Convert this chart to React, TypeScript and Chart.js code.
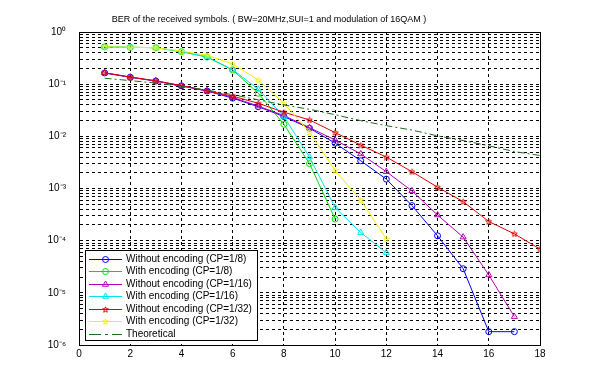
import React, { useEffect, useRef } from "react";
import { Chart, registerables } from "chart.js";

Chart.register(...registerables);

const titleText =
  "BER of the received symbols. ( BW=20MHz,SUI=1 and modulation of 16QAM )";

const xAll = [1, 2, 3, 4, 5, 6, 7, 8, 9, 10, 11, 12, 13, 14, 15, 16, 17, 18];

const woEncCP8 = [
  0.164, 0.136, 0.115, 0.093, 0.074, 0.054, 0.037, 0.024, 0.0143, 0.0074,
  0.0034, 0.00151, 0.00047, 0.000124, 2.9e-5, 1.8e-6, 1.8e-6,
];
const wEncCP8 = [0.52, 0.51, 0.5, 0.42, 0.33, 0.187, 0.067, 0.017, 0.003, 0.00026];
const woEncCP16 = [
  0.164, 0.136, 0.115, 0.093, 0.074, 0.056, 0.038, 0.025, 0.0147, 0.0085,
  0.0046, 0.0021, 0.0009, 0.00031, 0.000117, 2.2e-5, 3.5e-6,
];
const wEncCP16 = [
  0.52, 0.51, 0.5, 0.42, 0.335, 0.19, 0.08, 0.024, 0.004, 0.00043, 0.000143, 5.9e-5,
];
const woEncCP32 = [
  0.166, 0.137, 0.116, 0.094, 0.075, 0.059, 0.043, 0.029, 0.0206, 0.0118,
  0.0068, 0.004, 0.0021, 0.00106, 0.00056, 0.000233, 0.000135, 6.9e-5,
];
const wEncCP32 = [
  0.52, 0.51, 0.5, 0.43, 0.36, 0.244, 0.12, 0.043, 0.012, 0.0022, 0.0006, 0.000108,
];
const theoretical = [
  0.13, 0.117, 0.105, 0.091, 0.077, 0.063, 0.05, 0.04, 0.033, 0.026, 0.02,
  0.016, 0.0132, 0.0102, 0.0083, 0.0066, 0.0051, 0.0043,
];

const seriesNames = [
  "Without encoding (CP=1/8)",
  "With encoding (CP=1/8)",
  "Without encoding (CP=1/16)",
  "With encoding (CP=1/16)",
  "Without encoding (CP=1/32)",
  "With encoding (CP=1/32)",
  "Theoretical",
];
const seriesValues = [woEncCP8, wEncCP8, woEncCP16, wEncCP16, woEncCP32, wEncCP32, theoretical];
const seriesColors = ["#0000ff", "#00e000", "#b800b8", "#00e6e6", "#e00000", "#f2f200", "#1f6b1f"];
const seriesMarkers = ["circle", "circle", "triangle", "triangle", "star", "star", "none"];

const xTicks = [0, 2, 4, 6, 8, 10, 12, 14, 16, 18];
const yExponents = [-6, -5, -4, -3, -2, -1, 0];

const FONT = "Arial, 'Liberation Sans', sans-serif";
const SUP: Record<string, string> = {
  "0": "\u2070", "1": "\u00b9", "2": "\u00b2", "3": "\u00b3", "4": "\u2074",
  "5": "\u2075", "6": "\u2076", "7": "\u2077", "8": "\u2078", "9": "\u2079", "-": "\u207b",
};

function makeStar(color: string, size = 7): HTMLCanvasElement {
  const c = document.createElement("canvas");
  c.width = size;
  c.height = size;
  const ctx = c.getContext("2d")!;
  const cx = size / 2, cy = size / 2 + 0.3, R = size / 2 - 0.5, r = R * 0.45;
  ctx.beginPath();
  for (let k = 0; k < 10; k++) {
    const a = -Math.PI / 2 + (k * Math.PI) / 5;
    const rad = k % 2 === 0 ? R : r;
    ctx.lineTo(cx + rad * Math.cos(a), cy + rad * Math.sin(a));
  }
  ctx.closePath();
  ctx.strokeStyle = color;
  ctx.lineWidth = 1;
  ctx.stroke();
  return c;
}

export default function App() {
  const ref = useRef<HTMLCanvasElement | null>(null);

  useEffect(() => {
    if (!ref.current) return;
    const stars = seriesColors.map((c) => makeStar(c));

    const styleFor = (i: number): any => {
      const m = seriesMarkers[i];
      if (m === "star") return stars[i];
      if (m === "none") return false;
      return m;
    };

    const datasets = seriesValues.map((vals, i) => ({
      label: seriesNames[i],
      data: vals.map((v, k) => ({ x: xAll[k], y: v })),
      borderColor: seriesColors[i],
      backgroundColor: "rgba(0,0,0,0)",
      pointBorderColor: seriesColors[i],
      pointBackgroundColor: "rgba(0,0,0,0)",
      borderWidth: 1,
      pointBorderWidth: 1,
      pointRadius: seriesMarkers[i] === "none" ? 0 : seriesMarkers[i] === "triangle" ? 3.5 : 3,
      pointStyle: styleFor(i),
      borderDash: seriesMarkers[i] === "none" ? [7, 3, 2, 3] : [],
      tension: 0,
      order: seriesValues.length - i,
    }));

    const framePlugin = {
      id: "frame",
      afterDraw(chart: any) {
        const { ctx, chartArea: a } = chart;
        ctx.save();
        ctx.strokeStyle = "#000";
        ctx.lineWidth = 1;
        ctx.setLineDash([]);
        ctx.strokeRect(Math.round(a.left) + 0.5, Math.round(a.top) + 0.5,
          Math.round(a.right - a.left), Math.round(a.bottom - a.top));
        // title
        ctx.fillStyle = "#000";
        ctx.font = `9px ${FONT}`;
        ctx.textAlign = "center";
        ctx.textBaseline = "middle";
        ctx.fillText(titleText, 269, 20);

        // legend
        const bx = 85, by = 250, bw = 172, bh = 90;
        ctx.fillStyle = "#fff";
        ctx.fillRect(bx, by, bw, bh);
        ctx.strokeRect(bx + 0.5, by + 0.5, bw, bh);
        seriesNames.forEach((name, i) => {
          const y = Math.round(258.5 + i * 12.5) + 0.5;
          const col = seriesColors[i];
          ctx.strokeStyle = col;
          ctx.lineWidth = 1;
          ctx.setLineDash(seriesMarkers[i] === "none" ? [12, 4, 3, 4] : []);
          ctx.beginPath();
          ctx.moveTo(89, y);
          ctx.lineTo(122, y);
          ctx.stroke();
          ctx.setLineDash([]);
          const mx = 105.5;
          const m = seriesMarkers[i];
          if (m === "circle") {
            ctx.beginPath();
            ctx.arc(mx, y, 3, 0, Math.PI * 2);
            ctx.stroke();
          } else if (m === "triangle") {
            const r = 3.5;
            ctx.beginPath();
            ctx.moveTo(mx, y - r);
            ctx.lineTo(mx + r * 0.87, y + r * 0.5);
            ctx.lineTo(mx - r * 0.87, y + r * 0.5);
            ctx.closePath();
            ctx.stroke();
          } else if (m === "star") {
            ctx.drawImage(stars[i], mx - 3.5, y - 3.5);
          }
          ctx.fillStyle = "#000";
          ctx.textAlign = "left";
          ctx.font = `10px ${FONT}`;
          ctx.fillText(name, 126, y);
        });
        ctx.restore();
      },
    };

    const chart = new Chart(ref.current, {
      type: "line",
      data: { datasets: datasets as any },
      options: {
        animation: false,
        responsive: false,
        maintainAspectRatio: false,
        devicePixelRatio: 1,
        layout: { padding: { left: 0, right: 60, top: 32, bottom: 0 } },
        plugins: {
          legend: { display: false },
          title: { display: false },
          tooltip: { enabled: false },
        },
        scales: {
          x: {
            type: "linear",
            min: 0,
            max: 18,
            afterFit: (s: any) => {
              s.height = 45;
            },
            afterBuildTicks: (s: any) => {
              s.ticks = xTicks.map((v) => ({ value: v }));
            },
            ticks: {
              autoSkip: false,
              color: "#000",
              font: { family: FONT, size: 10 },
              padding: 3,
              maxRotation: 0,
            },
            grid: { color: "#000", lineWidth: 1, drawTicks: false },
            border: { display: true, color: "#000", dash: [3, 3] },
          },
          y: {
            type: "logarithmic",
            min: 1e-6,
            max: 1,
            afterFit: (s: any) => {
              s.width = 79;
            },
            afterBuildTicks: (s: any) => {
              const t: any[] = [];
              for (const e of yExponents) {
                if (e === 0) {
                  t.push({ value: 1 });
                  continue;
                }
                for (let m = 1; m <= 9; m++) t.push({ value: m * Math.pow(10, e) });
              }
              s.ticks = t;
            },
            ticks: {
              autoSkip: false,
              color: "#000",
              font: { family: FONT, size: 10 },
              padding: 13,
              callback: (v: any) => {
                const val = Number(v);
                const e = Math.round(Math.log10(val));
                if (Math.abs(val - Math.pow(10, e)) / val > 1e-6) return "";
                return "10" + String(e).split("").map((ch) => SUP[ch]).join("");
              },
            },
            grid: { color: "#000", lineWidth: 1, drawTicks: false },
            border: { display: true, color: "#000", dash: [3, 3] },
          },
        },
      },
      plugins: [framePlugin],
    });
    return () => chart.destroy();
  }, []);

  return (
    <div style={{ position: "absolute", left: 0, top: 0, width: 600, height: 390, background: "#fff" }}>
      <canvas ref={ref} width={600} height={390} />
    </div>
  );
}
